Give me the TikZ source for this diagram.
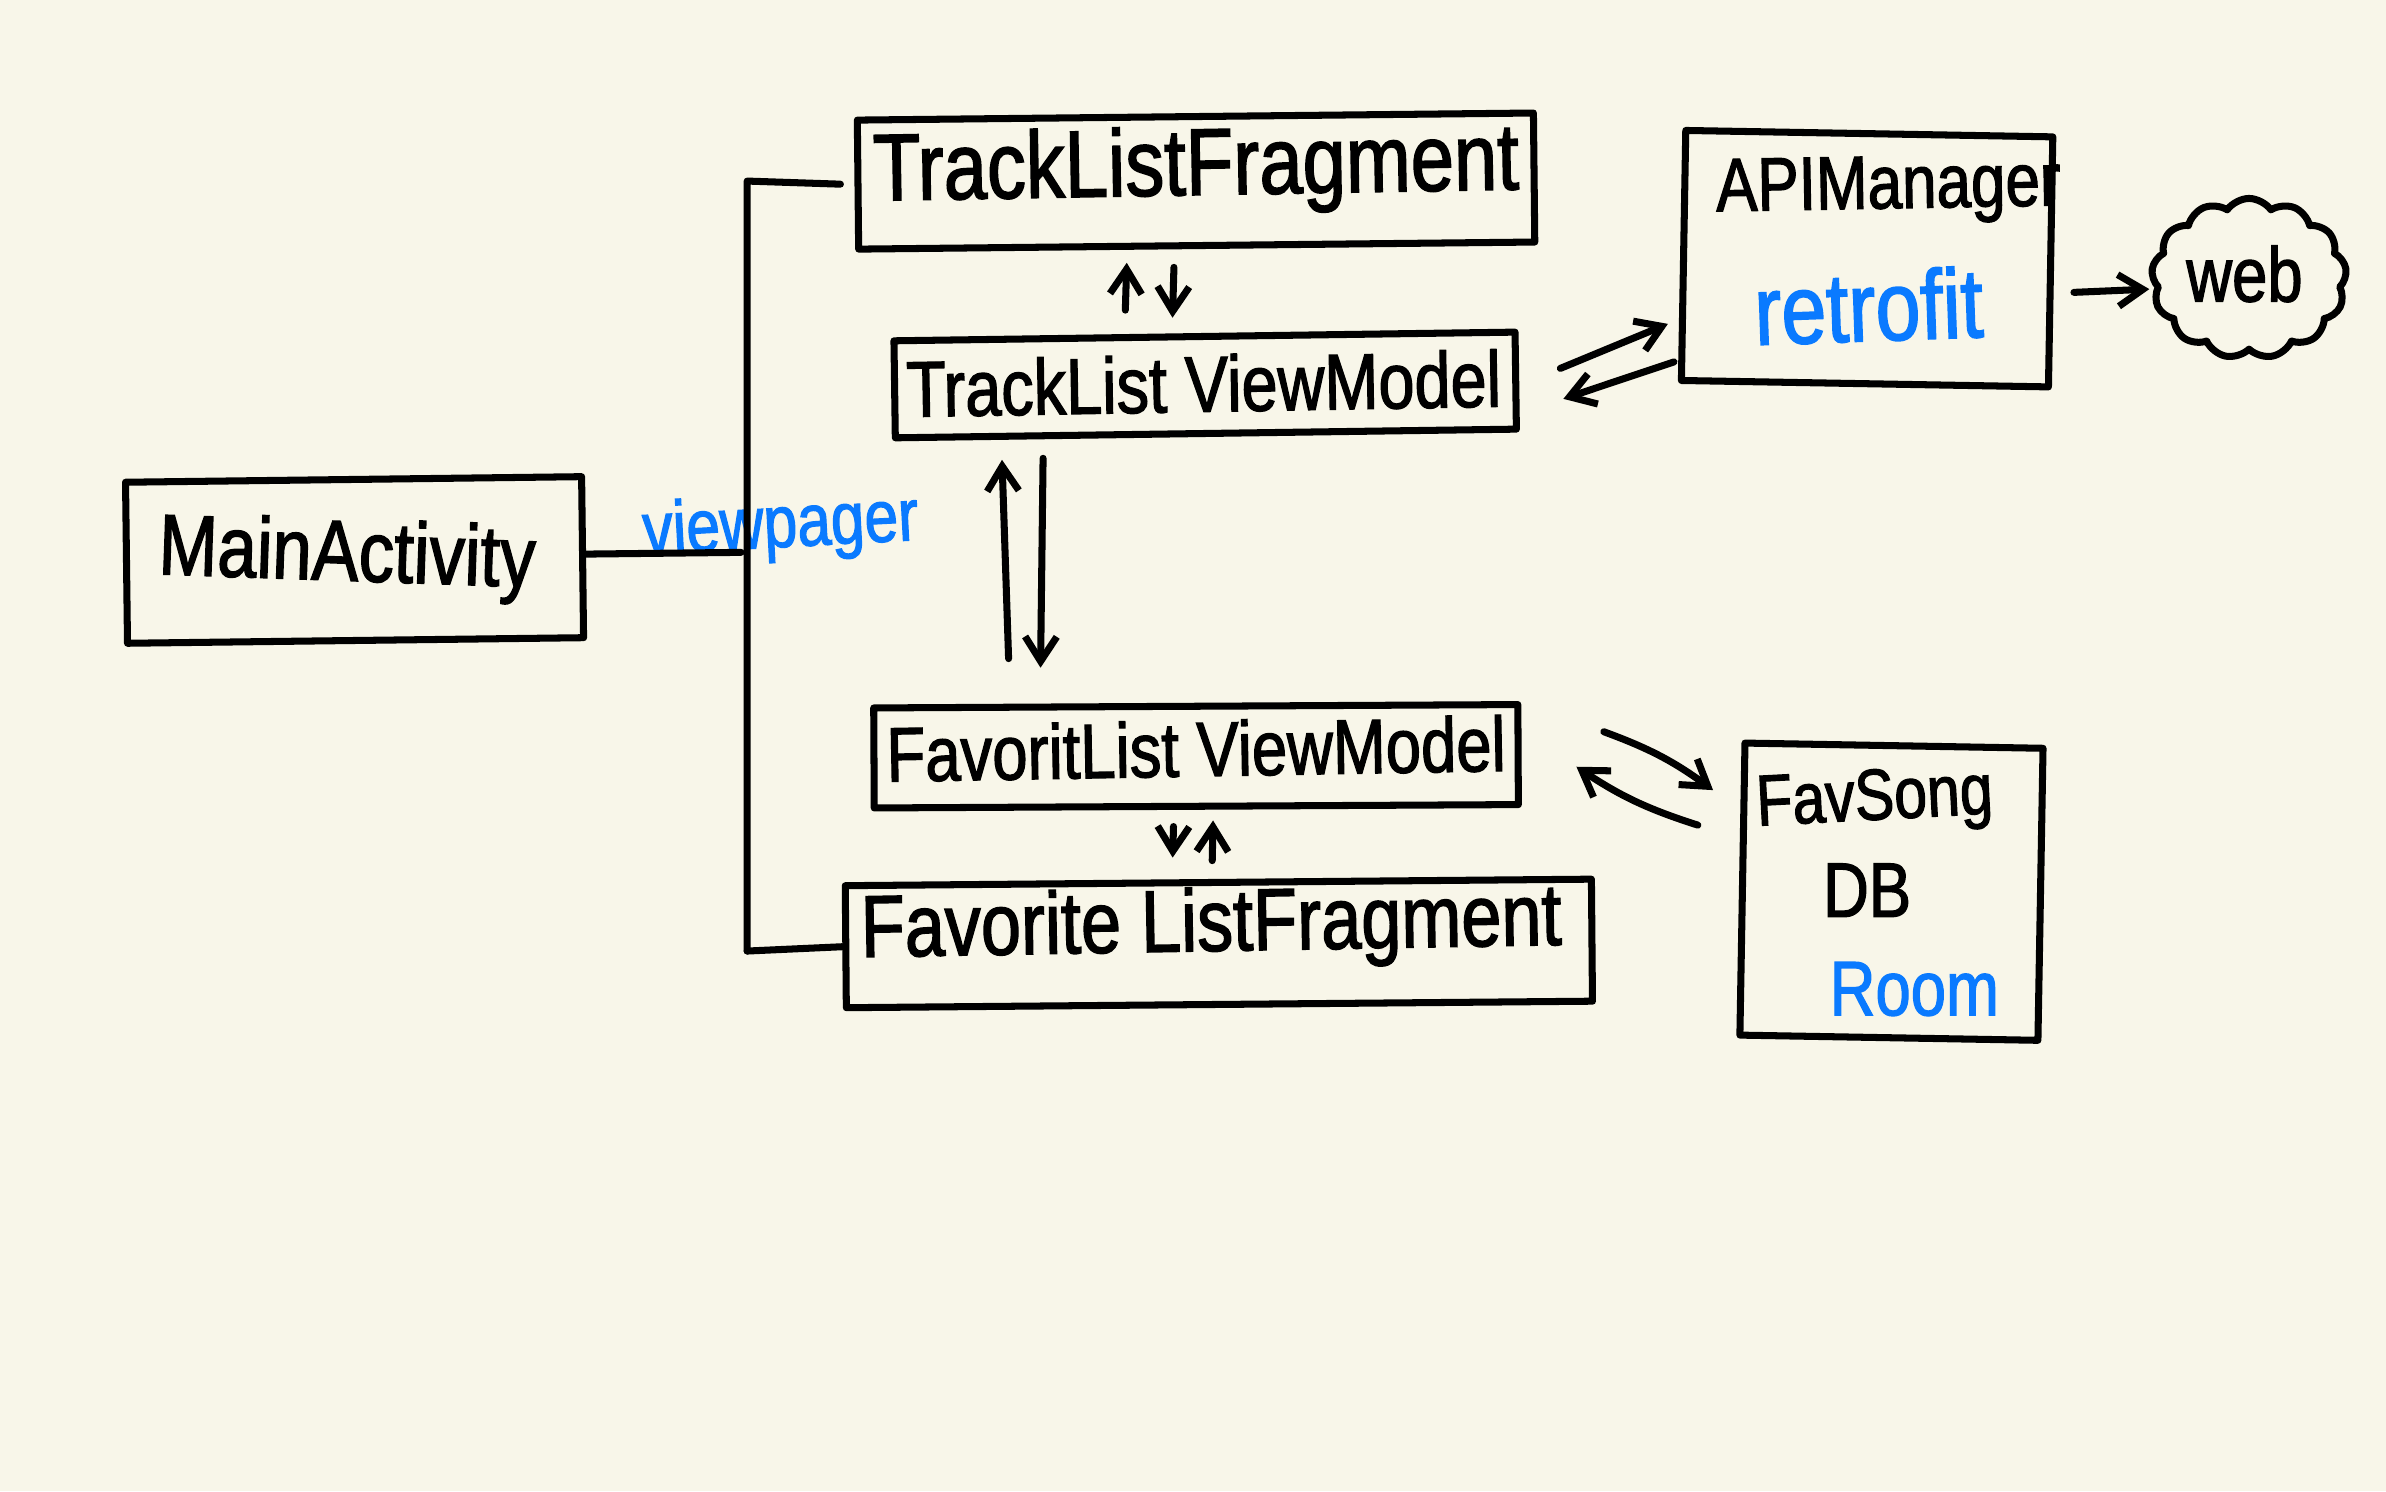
\documentclass[tikz,border=0pt]{standalone}
\usepackage{fontspec}
\setmainfont[FakeStretch=0.82,FakeBold=1.6]{Liberation Sans}
\usetikzlibrary{calc, arrows.meta, shapes.symbols}
\definecolor{paper}{HTML}{F8F6E9}
\definecolor{penblue}{HTML}{0A7AFF}
\tikzset{
  pen/.style={line width=2pt,black,line cap=round,line join=round},
  arr/.style={pen,-{Straight Barb[length=7pt,width=9pt,line width=2pt]}},
  box/.style={pen,draw,inner sep=0pt},
  hand/.style={font=\fontsize{#1}{#1}\selectfont,inner sep=0pt},
  hand/.default=24pt,
  bluehand/.style={hand=#1,text=penblue},
}
\begin{document}
\begin{tikzpicture}[x=0.015217cm,y=-0.015217cm]
\useasboundingbox[fill=paper] (0,0) rectangle (1568,980);
% Boxes
\node[box,minimum width=4.56cm,minimum height=1.61cm,rotate=0.7] (main) at (233,368) {};
\node[box,minimum width=6.76cm,minimum height=1.29cm,rotate=0.6] (trackfrag) at (786,119) {};
\node[box,minimum width=6.21cm,minimum height=0.97cm,rotate=0.8] (trackvm) at (792,253) {};
\node[box,minimum width=6.44cm,minimum height=1.0cm,rotate=0.3] (favvm) at (786,497) {};
\node[box,minimum width=7.46cm,minimum height=1.22cm,rotate=0.5] (favfrag) at (801,620) {};
\node[box,minimum width=3.67cm,minimum height=2.5cm,rotate=-1] (api) at (1227,170) {};
\node[box,minimum width=2.98cm,minimum height=2.92cm,rotate=-1] (db) at (1243,586) {};
\node[pen,draw,cloud,cloud puffs=13,cloud puff arc=110,aspect=1.15,minimum width=1.95cm,minimum height=1.6cm,inner sep=0pt] (web) at (1478,183) {};
% Labels
\node[hand=24.5pt,rotate=-2] (mainlabel) at (228,367) {MainActivity};
\node[hand=27pt,rotate=1] (tracklabel) at (786,112) {TrackListFragment};
\node[hand=22.5pt,rotate=1] (trackvmlabel) at (791,252) {TrackList ViewModel};
\node[hand=22pt,rotate=1] (favvmlabel) at (786,492) {FavoritList ViewModel};
\node[hand=25pt,rotate=1] (favlabel) at (796,610) {Favorite ListFragment};
\node[hand=21.5pt,rotate=1] (apilabel) at (1241,125) {APIManager};
\node[bluehand=28pt,rotate=2] (retrofit) at (1228,201) {retrofit};
\node[hand=20.5pt,rotate=3] (favsong) at (1232,527) {FavSong};
\node[hand=22pt] (dblabel) at (1227,585) {DB};
\node[bluehand=22pt] (room) at (1258,650) {Room};
\node[hand=22pt] (weblabel) at (1475,180) {web};
\node[bluehand=21pt,rotate=3] (viewpager) at (513,347) {viewpager};
% Trunk from the main box to both fragments
\coordinate (trunktop) at (491,119);
\coordinate (trunkbot) at (491,625);
\coordinate (trunkmid) at (487,363);
\draw[pen] ($(main.east)+(0,-2)$) -- (trunkmid);
\draw[pen,shorten >=4pt] (trunkbot) -- (trunktop) -- (trackfrag.west);
\draw[pen] (trunkbot) -- (favfrag.west);
% Small arrows at the top
\draw[arr] ($(trackvm.north)+(-52,-15)$) -- ($(trackfrag.south)+(-46,9)$);
\draw[arr] ($(trackfrag.south)+(-15,12)$) -- ($(trackvm.north)+(-21,-10)$);
% Long arrows between the view models
\draw[arr] ($(favvm.north)+(-123,-29)$) -- ($(trackvm.south)+(-134,15)$);
\draw[arr] ($(trackvm.south)+(-107,14)$) -- ($(favvm.north)+(-102,-23)$);
% Small arrows at the bottom
\draw[arr] ($(favvm.south)+(-15,11)$) -- ($(favfrag.north)+(-30,-14)$);
\draw[arr] ($(favfrag.north)+(-4,-12)$) -- ($(favvm.south)+(11,7)$);
% Arrows to the manager and the web
\draw[arr] ($(trackvm.east)+(27,-8)$) -- ($(api.west)+(-8,45)$);
\draw[arr] ($(api.west)+(-4,70)$) -- ($(trackvm.east)+(29,12)$);
\draw[arr] ($(api.east)+(13,20)$) -- ($(web.west)+(0,7)$);
% Curved arrows to the database
\draw[arr] ($(favvm.east)+(54,-15)$) to[bend left=8] ($(db.west)+(-17,-65)$);
\draw[arr] ($(db.west)+(-27,-42)$) to[bend left=8] ($(favvm.east)+(36,8)$);
\end{tikzpicture}
\end{document}
